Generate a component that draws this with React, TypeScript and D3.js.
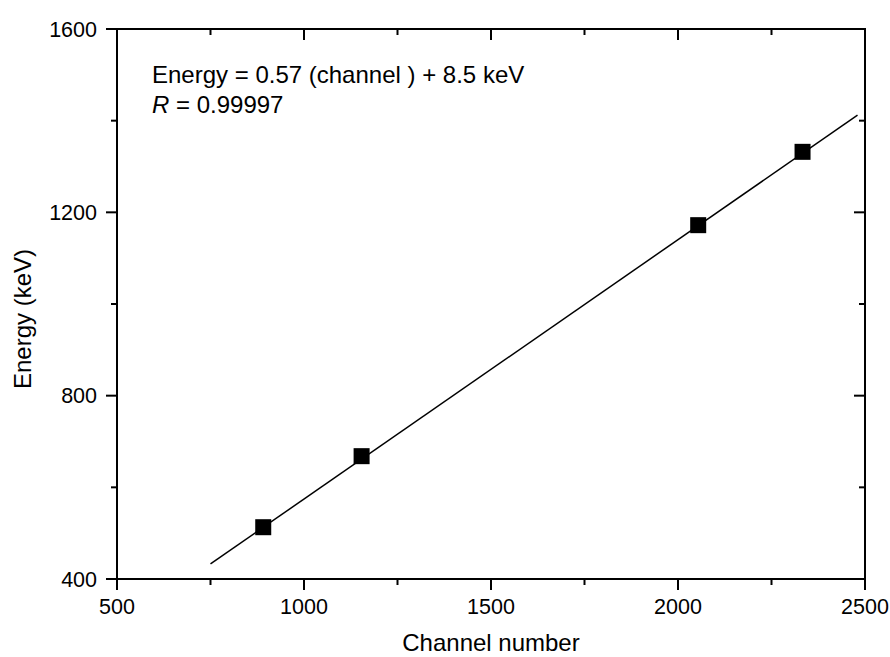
import React from "react";
import * as d3 from "d3";

const channels = [891, 1154, 2054, 2333];
const energies = [513, 668, 1172, 1332];
const fitChannels = [750, 2480];
const fitEnergies = [433, 1412];
const xTicks = [500, 1000, 1500, 2000, 2500];
const xMinor = [750, 1250, 1750, 2250];
const yTicks = [400, 800, 1200, 1600];
const yMinor = [600, 1000, 1400];
const xTitle = "Channel number";
const yTitle = "Energy (keV)";
const annot1 = "Energy = 0.57 (channel ) + 8.5 keV";
const annot2 = "= 0.99997";

export default function App() {
  const W = 890, H = 657;
  const left = 117, right = 865, top = 29, bottom = 579;
  const x = d3.scaleLinear().domain([500, 2500]).range([left, right]);
  const y = d3.scaleLinear().domain([400, 1600]).range([bottom, top]);
  const font = "'Liberation Sans', Arial, sans-serif";
  const line = d3.line<number>().x((d, i) => x(fitChannels[i])).y((d) => y(d));
  const MAJ = 11, MIN = 6;
  const sq = 16;
  return (
    <svg width={W} height={H} style={{ position: "absolute", left: 0, top: 0, background: "#fff" }} fontFamily={font}>
      <rect x={0} y={0} width={W} height={H} fill="#fff" />
      <path d={line(fitEnergies) || ""} stroke="#000" strokeWidth={1.5} fill="none" />
      {channels.map((c, i) => (
        <rect key={i} x={x(c) - sq / 2} y={y(energies[i]) - sq / 2} width={sq} height={sq} fill="#000" />
      ))}
      <rect x={left} y={top} width={right - left} height={bottom - top} fill="none" stroke="#000" strokeWidth={2} />
      {xTicks.map((t) => (
        <g key={"xt" + t}>
          <line x1={x(t)} x2={x(t)} y1={bottom} y2={bottom + MAJ} stroke="#000" strokeWidth={2} />
          <line x1={x(t)} x2={x(t)} y1={top} y2={top + MAJ} stroke="#000" strokeWidth={2} />
          <text x={x(t)} y={614} fontSize={21.5} textAnchor="middle" fill="#000">{t}</text>
        </g>
      ))}
      {xMinor.map((t) => (
        <g key={"xm" + t}>
          <line x1={x(t)} x2={x(t)} y1={bottom} y2={bottom + MIN} stroke="#000" strokeWidth={2} />
          <line x1={x(t)} x2={x(t)} y1={top} y2={top + MIN} stroke="#000" strokeWidth={2} />
        </g>
      ))}
      {yTicks.map((t) => (
        <g key={"yt" + t}>
          <line x1={left - MAJ} x2={left} y1={y(t)} y2={y(t)} stroke="#000" strokeWidth={2} />
          <line x1={right - MAJ} x2={right} y1={y(t)} y2={y(t)} stroke="#000" strokeWidth={2} />
          <text x={97} y={y(t) + 7.5} fontSize={21.5} textAnchor="end" fill="#000">{t}</text>
        </g>
      ))}
      {yMinor.map((t) => (
        <g key={"ym" + t}>
          <line x1={left - MIN} x2={left} y1={y(t)} y2={y(t)} stroke="#000" strokeWidth={2} />
          <line x1={right - MIN} x2={right} y1={y(t)} y2={y(t)} stroke="#000" strokeWidth={2} />
        </g>
      ))}
      <text x={(left + right) / 2} y={651} fontSize={24} textAnchor="middle" fill="#000">{xTitle}</text>
      <text transform={`translate(31,319) rotate(-90)`} fontSize={24} textAnchor="middle" fill="#000">{yTitle}</text>
      <text x={152} y={83} fontSize={24} fill="#000">{annot1}</text>
      <text x={152} y={113} fontSize={24} fill="#000">
        <tspan fontStyle="italic">R</tspan>
        <tspan> {annot2}</tspan>
      </text>
    </svg>
  );
}
